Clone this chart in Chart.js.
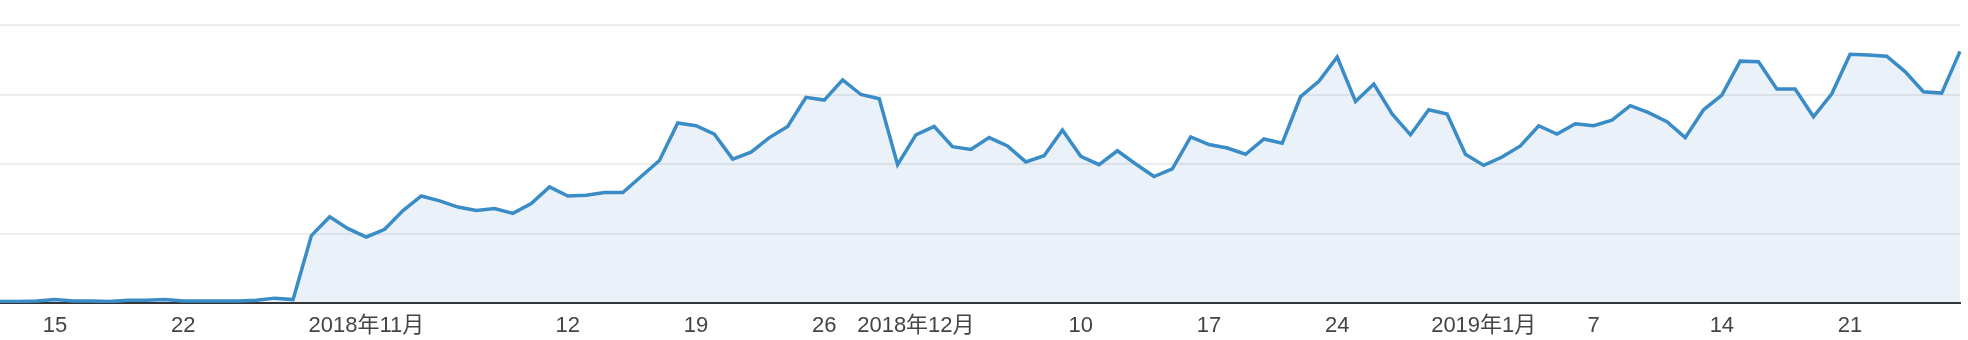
<!DOCTYPE html>
<html>
<head>
<meta charset="utf-8">
<script src="https://cdn.jsdelivr.net/npm/chart.js@4/dist/chart.umd.min.js"></script>
<style>
  html, body { margin: 0; padding: 0; background: #ffffff; }
  #wrap { width: 1968px; height: 340px; position: relative; }
</style>
</head>
<body>
<div id="wrap"><canvas id="c"></canvas></div>
<script>
const categories = [
  "2018-10-12","2018-10-13","2018-10-14","2018-10-15","2018-10-16","2018-10-17","2018-10-18","2018-10-19","2018-10-20","2018-10-21",
  "2018-10-22","2018-10-23","2018-10-24","2018-10-25","2018-10-26","2018-10-27","2018-10-28","2018-10-29","2018-10-30","2018-10-31",
  "2018-11-01","2018-11-02","2018-11-03","2018-11-04","2018-11-05","2018-11-06","2018-11-07","2018-11-08","2018-11-09","2018-11-10",
  "2018-11-11","2018-11-12","2018-11-13","2018-11-14","2018-11-15","2018-11-16","2018-11-17","2018-11-18","2018-11-19","2018-11-20",
  "2018-11-21","2018-11-22","2018-11-23","2018-11-24","2018-11-25","2018-11-26","2018-11-27","2018-11-28","2018-11-29","2018-11-30",
  "2018-12-01","2018-12-02","2018-12-03","2018-12-04","2018-12-05","2018-12-06","2018-12-07","2018-12-08","2018-12-09","2018-12-10",
  "2018-12-11","2018-12-12","2018-12-13","2018-12-14","2018-12-15","2018-12-16","2018-12-17","2018-12-18","2018-12-19","2018-12-20",
  "2018-12-21","2018-12-22","2018-12-23","2018-12-24","2018-12-25","2018-12-26","2018-12-27","2018-12-28","2018-12-29","2018-12-30",
  "2018-12-31","2019-01-01","2019-01-02","2019-01-03","2019-01-04","2019-01-05","2019-01-06","2019-01-07","2019-01-08","2019-01-09",
  "2019-01-10","2019-01-11","2019-01-12","2019-01-13","2019-01-14","2019-01-15","2019-01-16","2019-01-17","2019-01-18","2019-01-19",
  "2019-01-20","2019-01-21","2019-01-22","2019-01-23","2019-01-24","2019-01-25","2019-01-26","2019-01-27"
];

const sessions = [
  2,2,3,5,3,3,2,4,4,5,
  3,3,3,3,4,7,5,
  97,124,107,95,106,133,154,147,138,133,
  136,129,143,167,154,155,159,159,182,205,
  259,255,243,207,217,238,254,296,292,321,
  300,294,199,242,254,225,221,238,226,203,
  212,249,211,199,219,200,182,193,239,228,
  223,214,236,230,297,319,354,290,315,272,
  242,278,272,214,198,210,226,255,243,258,
  255,263,284,274,261,238,278,299,348,347,
  308,308,268,301,358,357,355,333,304,302,362
];

const tickDates = ["2018-10-15","2018-10-22","2018-11-01","2018-11-12","2018-11-19","2018-11-26","2018-12-01","2018-12-10","2018-12-17","2018-12-24","2019-01-01","2019-01-07","2019-01-14","2019-01-21"];
const tickTexts = ["15","22","2018年11月","12","19","26","2018年12月","10","17","24","2019年1月","7","14","21"];

const yMax = 400;
const yStep = 100;

new Chart(document.getElementById('c'), {
  type: 'line',
  data: {
    labels: categories,
    datasets: [{
      data: sessions,
      borderColor: '#3a8cc7',
      backgroundColor: 'rgba(45,115,190,0.10)',
      borderWidth: 3.5,
      fill: 'origin',
      pointRadius: 0,
      tension: 0,
      borderJoinStyle: 'miter'
    }]
  },
  options: {
    responsive: true,
    maintainAspectRatio: false,
    animation: false,
    layout: { padding: { top: 25, right: 8, left: 0, bottom: 0 } },
    plugins: { legend: { display: false }, tooltip: { enabled: false } },
    scales: {
      x: {
        type: 'category',
        offset: false,
        grid: { display: false, drawTicks: false },
        border: { display: true, color: '#333333', width: 2 },
        ticks: {
          autoSkip: false,
          maxRotation: 0,
          minRotation: 0,
          padding: 10,
          color: '#444444',
          font: { family: "'Liberation Sans', Arial, 'Noto Sans CJK JP', sans-serif", size: 22 },
          callback: function (value) {
            const d = this.getLabelForValue(value);
            const k = tickDates.indexOf(d);
            return k >= 0 ? tickTexts[k] : null;
          }
        },
        afterFit: function (scale) { scale.height = 37; }
      },
      y: {
        min: 0,
        max: yMax,
        ticks: { display: false, stepSize: yStep },
        grid: { color: '#ededed', lineWidth: 2, drawTicks: false },
        border: { display: false },
        afterFit: function (scale) { scale.width = 0; }
      }
    }
  }
});
</script>
</body>
</html>
